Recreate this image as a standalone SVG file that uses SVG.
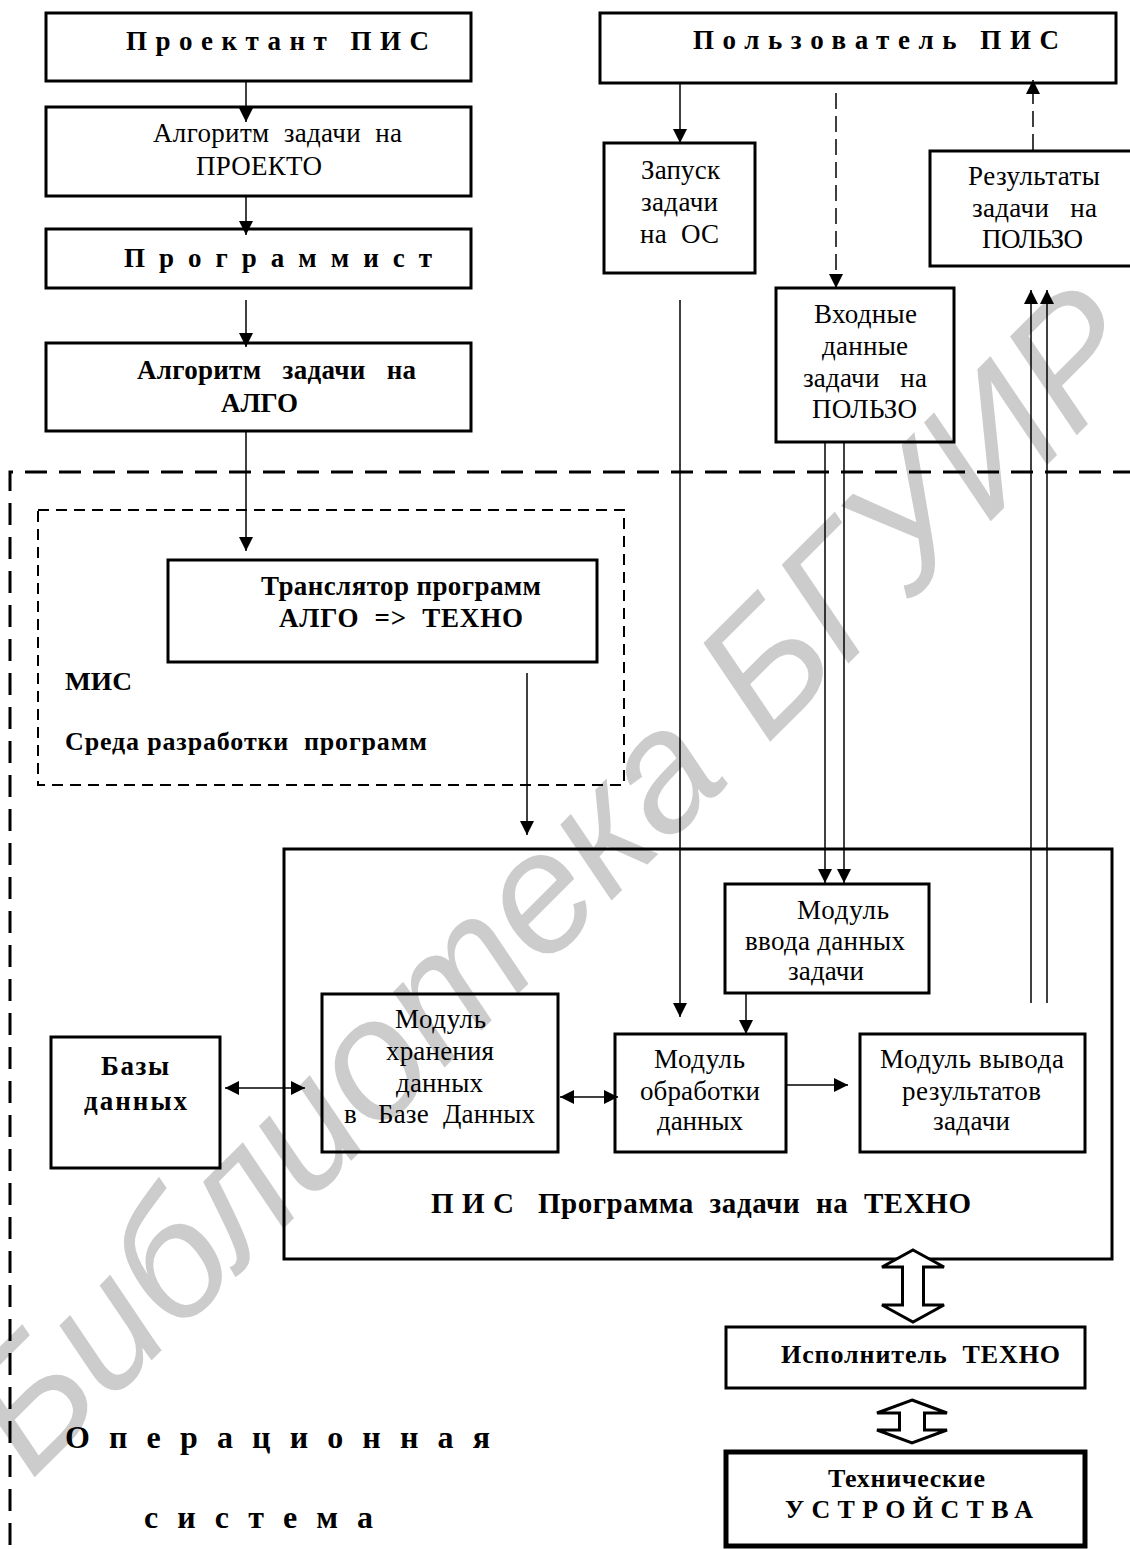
<svg xmlns="http://www.w3.org/2000/svg" width="1130" height="1549" viewBox="0 0 1130 1549">
<defs>
<style>
.box{fill:none;stroke:#000;stroke-width:3}
.t{font-family:"Liberation Serif","Times New Roman",serif;font-size:27px;fill:#000;white-space:pre}
.b{font-weight:bold}
.ln{fill:none;stroke:#000;stroke-width:1.5}
.dl{stroke-dasharray:16 7}
.hol{fill:#fff;stroke:#000;stroke-width:3;stroke-linejoin:miter}
.wm{font-family:"Liberation Sans",Arial,sans-serif;font-style:italic;font-size:170px;fill:#cccccc}
</style>
<marker id="ah" markerUnits="userSpaceOnUse" markerWidth="14" markerHeight="14" viewBox="0 0 14 14" refX="14" refY="7" orient="auto-start-reverse"><path d="M0,0 L14,7 L0,14 z" fill="#000"/></marker>
</defs>
<rect width="1130" height="1549" fill="#fff"/>
<g id="watermark"><text class="wm" transform="translate(31,1481) rotate(-45)">Библиотека БГУИР</text></g>

<g id="os-boundary">
<path d="M1135,472 H10 V1555" fill="none" stroke="#000" stroke-width="3" stroke-dasharray="22 12"/>
<text class="t b" x="65" y="1448" style="font-size:32px" textLength="425" lengthAdjust="spacing">Операционная</text>
<text class="t b" x="144" y="1528" style="font-size:32px" textLength="229" lengthAdjust="spacing">система</text>
</g>

<g id="mis">
<rect x="38" y="510" width="586" height="275" fill="none" stroke="#000" stroke-width="2" stroke-dasharray="11 7"/>
<text class="t b" x="65" y="690" style="font-size:26px" textLength="67" lengthAdjust="spacingAndGlyphs">МИС</text>
<text class="t b" x="65" y="750" style="font-size:26px" textLength="362" lengthAdjust="spacing">Среда разработки  программ</text>
</g>

<g id="proektant">
<rect class="box" x="46" y="13" width="425" height="68"/>
<text class="t b" x="126" y="50" textLength="303" lengthAdjust="spacing">Проектант ПИС</text>
</g>
<g id="alg-proekto">
<rect class="box" x="46" y="107" width="425" height="89"/>
<text class="t" x="153" y="142" textLength="249" lengthAdjust="spacing">Алгоритм  задачи  на</text>
<text class="t" x="196" y="175" textLength="126" lengthAdjust="spacing">ПРОЕКТО</text>
</g>
<g id="programmist">
<rect class="box" x="46" y="229" width="425" height="59"/>
<text class="t b" x="124" y="267" textLength="308" lengthAdjust="spacing">Программист</text>
</g>
<g id="alg-algo">
<rect class="box" x="46" y="343" width="425" height="88"/>
<text class="t b" x="137" y="379" textLength="279" lengthAdjust="spacing">Алгоритм   задачи   на</text>
<text class="t b" x="221" y="412" textLength="77" lengthAdjust="spacing">АЛГО</text>
</g>

<g id="polzovatel">
<rect class="box" x="600" y="13" width="516" height="70"/>
<text class="t b" x="693" y="49" textLength="366" lengthAdjust="spacing">Пользователь ПИС</text>
</g>
<g id="zapusk">
<rect class="box" x="604" y="143" width="151" height="130"/>
<text class="t" x="641" y="179" textLength="79" lengthAdjust="spacing">Запуск</text>
<text class="t" x="641" y="211" textLength="77" lengthAdjust="spacing">задачи</text>
<text class="t" x="640" y="243" textLength="79" lengthAdjust="spacing">на  ОС</text>
</g>
<g id="rezultaty">
<rect class="box" x="930" y="151" width="215" height="115"/>
<text class="t" x="968" y="185" textLength="132" lengthAdjust="spacing">Результаты</text>
<text class="t" x="972" y="217" textLength="125" lengthAdjust="spacing">задачи   на</text>
<text class="t" x="982" y="248" textLength="101" lengthAdjust="spacing">ПОЛЬЗО</text>
</g>
<g id="vhodnye">
<rect class="box" x="776" y="288" width="178" height="154"/>
<text class="t" x="814" y="323" textLength="103" lengthAdjust="spacing">Входные</text>
<text class="t" x="822" y="355" textLength="86" lengthAdjust="spacing">данные</text>
<text class="t" x="803" y="387" textLength="124" lengthAdjust="spacing">задачи   на</text>
<text class="t" x="812" y="418" textLength="105" lengthAdjust="spacing">ПОЛЬЗО</text>
</g>

<g id="translator">
<rect class="box" x="168" y="560" width="429" height="102"/>
<text class="t b" x="261" y="595" textLength="280" lengthAdjust="spacing">Транслятор программ</text>
<text class="t b" x="279" y="627" textLength="244" lengthAdjust="spacing">АЛГО  =&gt;  ТЕХНО</text>
</g>

<g id="pis">
<rect class="box" x="284" y="849" width="828" height="410"/>
<text class="t b" x="431" y="1213" style="font-size:29px" textLength="540" lengthAdjust="spacing">П И С   Программа  задачи  на  ТЕХНО</text>
</g>
<g id="modul-vvoda">
<rect class="box" x="725" y="884" width="204" height="109"/>
<text class="t" x="797" y="919" textLength="92" lengthAdjust="spacing">Модуль</text>
<text class="t" x="745" y="950" textLength="160" lengthAdjust="spacing">ввода данных</text>
<text class="t" x="788" y="980" textLength="76" lengthAdjust="spacing">задачи</text>
</g>
<g id="modul-hraneniya">
<rect class="box" x="322" y="994" width="236" height="158"/>
<text class="t" x="395" y="1028" textLength="91" lengthAdjust="spacing">Модуль</text>
<text class="t" x="386" y="1060" textLength="108" lengthAdjust="spacing">хранения</text>
<text class="t" x="396" y="1092" textLength="87" lengthAdjust="spacing">данных</text>
<text class="t" x="344" y="1123" textLength="191" lengthAdjust="spacing">в   Базе  Данных</text>
</g>
<g id="modul-obrabotki">
<rect class="box" x="615" y="1034" width="171" height="118"/>
<text class="t" x="654" y="1068" textLength="91" lengthAdjust="spacing">Модуль</text>
<text class="t" x="640" y="1100" textLength="120" lengthAdjust="spacing">обработки</text>
<text class="t" x="657" y="1130" textLength="86" lengthAdjust="spacing">данных</text>
</g>
<g id="modul-vyvoda">
<rect class="box" x="860" y="1034" width="225" height="118"/>
<text class="t" x="880" y="1068" textLength="184" lengthAdjust="spacing">Модуль вывода</text>
<text class="t" x="902" y="1100" textLength="139" lengthAdjust="spacing">результатов</text>
<text class="t" x="933" y="1130" textLength="77" lengthAdjust="spacing">задачи</text>
</g>
<g id="bazy">
<rect class="box" x="51" y="1037" width="169" height="131"/>
<text class="t b" x="101" y="1075" textLength="68" lengthAdjust="spacing">Базы</text>
<text class="t b" x="84" y="1110" textLength="103" lengthAdjust="spacing">данных</text>
</g>
<g id="ispolnitel">
<rect class="box" x="726" y="1327" width="359" height="61"/>
<text class="t b" x="781" y="1363" style="font-size:26px" textLength="279" lengthAdjust="spacing">Исполнитель  ТЕХНО</text>
</g>
<g id="tehnicheskie">
<rect x="726" y="1452" width="359" height="94" fill="none" stroke="#000" stroke-width="5"/>
<text class="t b" x="828" y="1487" style="font-size:26px" textLength="157" lengthAdjust="spacing">Технические</text>
<text class="t b" x="785" y="1518" style="font-size:26px" textLength="248" lengthAdjust="spacing">УСТРОЙСТВА</text>
</g>

<g id="connectors">
<line class="ln" x1="246" y1="82" x2="246" y2="122" marker-end="url(#ah)"/>
<line class="ln" x1="246" y1="197" x2="246" y2="235" marker-end="url(#ah)"/>
<line class="ln" x1="246" y1="300" x2="246" y2="347" marker-end="url(#ah)"/>
<line class="ln" x1="246" y1="432" x2="246" y2="551" marker-end="url(#ah)"/>
<line class="ln" x1="527" y1="673" x2="527" y2="835" marker-end="url(#ah)"/>
<line class="ln" x1="680" y1="83" x2="680" y2="143" marker-end="url(#ah)"/>
<line class="ln" x1="680" y1="300" x2="680" y2="1017" marker-end="url(#ah)"/>
<line class="ln dl" x1="836" y1="93" x2="836" y2="288" marker-end="url(#ah)"/>
<line class="ln dl" x1="1033" y1="150" x2="1033" y2="80" marker-end="url(#ah)"/>
<line class="ln" x1="825" y1="442" x2="825" y2="883" marker-end="url(#ah)"/>
<line class="ln" x1="844" y1="442" x2="844" y2="883" marker-end="url(#ah)"/>
<line class="ln" x1="1031" y1="1003" x2="1031" y2="290" marker-end="url(#ah)"/>
<line class="ln" x1="1047" y1="1003" x2="1047" y2="290" marker-end="url(#ah)"/>
<line class="ln" x1="746" y1="993" x2="746" y2="1034" marker-end="url(#ah)"/>
<line class="ln" x1="787" y1="1085" x2="848" y2="1085" marker-end="url(#ah)"/>
<line class="ln" x1="225" y1="1088" x2="305" y2="1088" marker-start="url(#ah)" marker-end="url(#ah)"/>
<line class="ln" x1="560" y1="1097" x2="618" y2="1097" marker-start="url(#ah)" marker-end="url(#ah)"/>
<polygon class="hol" points="913,1250 944,1267 923.5,1267 923.5,1305 944,1305 913,1322 882,1305 902.5,1305 902.5,1267 882,1267"/>
<polygon class="hol" points="912,1400 947,1413 924.5,1413 924.5,1430 947,1430 912,1443 877,1430 899.5,1430 899.5,1413 877,1413"/>
</g>
</svg>
